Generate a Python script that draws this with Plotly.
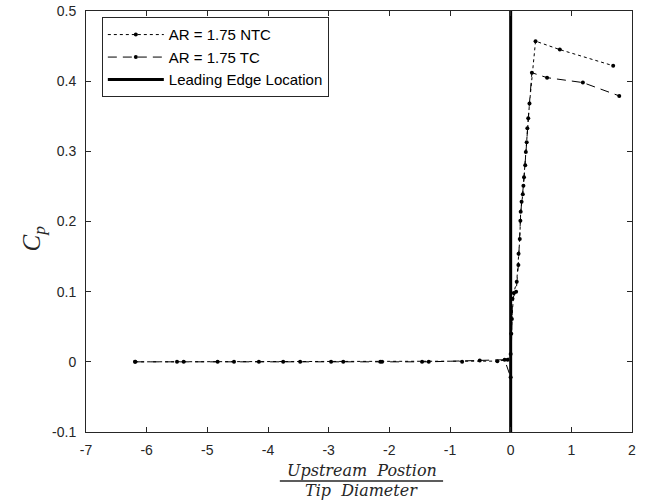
import plotly.graph_objects as go

# NTC series (dotted)
ntc_x = [-6.19, -5.50, -4.83, -4.15, -3.47, -2.76, -2.12, -1.46, -0.80, -0.22, -0.05,
         0.00, 0.02, 0.05, 0.10, 0.13, 0.15, 0.165, 0.20, 0.22, 0.25, 0.275, 0.31, 0.41, 0.81, 1.69]
ntc_y = [0.000, 0.000, 0.000, 0.000, 0.000, 0.000, 0.000, 0.000, 0.000, 0.001, 0.003,
         0.011, 0.061, 0.098, 0.114, 0.154, 0.175, 0.214, 0.239, 0.263, 0.299, 0.333, 0.368, 0.457, 0.445, 0.422]

# TC series (dashed)
tc_x = [-6.19, -5.39, -4.56, -3.75, -2.96, -2.15, -1.35, -0.51, -0.10,
        0.00, 0.01, 0.03, 0.09, 0.127, 0.16, 0.18, 0.21, 0.24, 0.264, 0.29, 0.35, 0.60, 1.19, 1.79]
tc_y = [0.000, 0.000, 0.000, 0.000, 0.000, 0.000, 0.000, 0.002, 0.003,
        -0.022, 0.040, 0.090, 0.100, 0.138, 0.201, 0.228, 0.251, 0.280, 0.313, 0.347, 0.412, 0.405, 0.398, 0.379]

le_x = [0, 0]
le_y = [-0.1, 0.5]

x_ticks = [-7, -6, -5, -4, -3, -2, -1, 0, 1, 2]
x_ticktext = ["-7", "-6", "-5", "-4", "-3", "-2", "-1", "0", "1", "2"]
y_ticks = [-0.1, 0, 0.1, 0.2, 0.3, 0.4, 0.5]
y_ticktext = ["-0.1", "0", "0.1", "0.2", "0.3", "0.4", "0.5"]

fig = go.Figure()
fig.add_trace(go.Scatter(x=ntc_x, y=ntc_y, mode="lines+markers", name="AR = 1.75 NTC",
                         line=dict(color="black", width=1, dash="dot"),
                         marker=dict(color="black", size=4)))
fig.add_trace(go.Scatter(x=tc_x, y=tc_y, mode="lines+markers", name="AR = 1.75 TC",
                         line=dict(color="black", width=1, dash="9px,6px"),
                         marker=dict(color="black", size=4)))
fig.add_trace(go.Scatter(x=le_x, y=le_y, mode="lines", name="Leading Edge Location",
                         line=dict(color="black", width=3)))

axis_common = dict(showgrid=False, zeroline=False, showline=True, linecolor="#262626",
                   linewidth=1, mirror="ticks", ticks="inside", ticklen=5, automargin=False,
                   tickcolor="#262626", tickfont=dict(family="Liberation Sans, Arial", size=14, color="#262626"))

fig.update_xaxes(range=[-7, 2], tickvals=x_ticks, ticktext=x_ticktext, ticklabelstandoff=5, **axis_common)
fig.update_yaxes(range=[-0.1, 0.5], tickvals=y_ticks, ticktext=y_ticktext, ticklabelstandoff=6, **axis_common)

fig.update_layout(
    width=649, height=503,
    margin=dict(l=86, r=17, t=11, b=71),
    paper_bgcolor="white", plot_bgcolor="white",
    showlegend=True,
    legend=dict(x=0.029, y=0.985, xanchor="left", yanchor="top",
                bgcolor="white", bordercolor="#262626", borderwidth=1,
                font=dict(family="Liberation Sans, Arial", size=15, color="black"),
                tracegroupgap=0, itemwidth=56),
)

# y-axis label
fig.add_annotation(x=-0.097, y=0.46, xref="paper", yref="paper", text="<i>C</i><sub><i>p</i></sub>",
                   showarrow=False, textangle=-90, xanchor="center", yanchor="middle",
                   font=dict(family="Liberation Serif, DejaVu Serif", size=25, color="#262626"))

# fractional x-axis label
fig.add_annotation(x=0.5046, y=-0.0903, xref="paper", yref="paper", text="<i>Upstream&nbsp;&nbsp;Postion</i>",
                   showarrow=False, yanchor="middle", borderpad=0,
                   font=dict(family="DejaVu Serif", size=16, color="#262626"))
fig.add_annotation(x=0.5046, y=-0.1401, xref="paper", yref="paper", text="<i>Tip&nbsp;&nbsp;Diameter</i>",
                   showarrow=False, yanchor="middle", borderpad=0,
                   font=dict(family="DejaVu Serif", size=16, color="#262626"))
fig.add_shape(type="line", xref="paper", yref="paper", x0=0.355, x1=0.654, y0=-0.1164, y1=-0.1164,
              line=dict(color="#262626", width=1.5))

fig.write_html("out.html", config={"displayModeBar": False},
               post_script="document.body.style.margin='0';document.body.style.overflow='hidden';")
